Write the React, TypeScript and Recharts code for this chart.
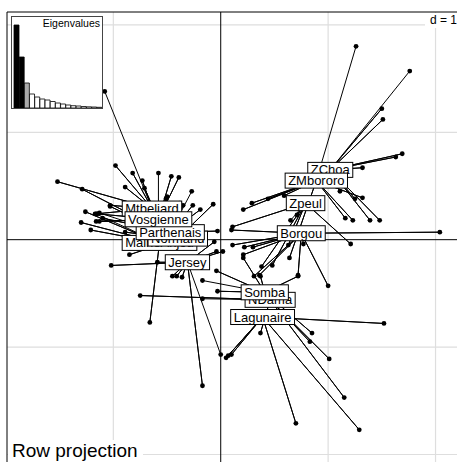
import React from "react";
import {
  ScatterChart,
  Scatter,
  XAxis,
  YAxis,
  ReferenceLine,
  BarChart,
  Bar,
  Cell,
} from "recharts";

// eigenvalues of the inset (relative heights)
const eigenvalues = [83, 51, 25, 14, 11, 9, 8, 6.5, 5, 4, 3, 2.3, 2, 1.5, 1.2, 1, 0.7];

// row scores per breed, [x, y]
const borgou = [[0.77, -0.04], [0.11, -0.05], [0.22, -0.07], [0.3, -0.07], [0.21, -0.14], [0.72, -0.33], [1.0, -0.43], [2.04, 0.07], [0.36, -0.33], [0.31, -0.34], [0.1, 0.09]];
const jersey = [[0.0, -1.07], [-0.45, -0.34], [-0.41, -0.34], [-0.36, -0.35], [-0.59, -0.21], [-1.02, -0.24], [-0.17, -1.36], [-0.06, -0.02], [-0.04, -0.11], [0.02, -0.11]];
const lagunaire = [[0.05, -1.1], [0.07, -1.08], [0.1, -1.07], [1.52, -0.78], [1.29, -1.77], [0.7, -1.71]];
const maine = [[-1.16, 0.24], [-1.26, 0.26], [-1.3, 0.16], [-1.21, 0.09], [-0.66, -0.77]];
const mtbeliard = [[-1.08, 1.38], [-0.98, 0.69], [-0.82, 0.62], [-0.73, 0.55], [-1.52, 0.54], [-0.89, 0.49], [-1.03, 0.32], [-1.17, 0.24]];
const ndama = [[-0.17, -0.55], [-0.75, -0.52], [0.37, -0.87], [0.83, -0.95], [1.01, -1.11], [1.15, -1.47]];
const normand = [[-1.13, 0.25], [-1.03, 0.31], [-0.89, 0.07], [-0.85, -0.14], [-0.07, 0.33], [-1.29, 0.47]];
const parthenais = [[-0.27, 0.45], [-0.51, 0.38], [-0.38, 0.34], [-0.35, 0.32], [-0.26, 0.32], [-0.19, 0.28], [-1.1, 0.2], [-0.03, 0.08]];
const somba = [[-0.17, -0.38], [-0.04, -0.29], [-0.03, -0.48], [0.37, -0.34], [0.72, -0.34], [0.85, -0.87], [0.21, -0.17]];
const vosgienne = [[-0.58, 0.62], [-0.46, 0.59], [-0.39, 0.58], [-0.71, 0.48], [-0.5, 0.4], [-1.15, 0.24], [-1.13, 0.17], [-1.16, 0.17]];
const zchoa = [[1.76, 1.57], [1.5, 1.22], [1.51, 1.12], [1.69, 0.8], [1.63, 0.77], [1.32, 0.67], [1.25, 0.38], [1.39, 0.18], [1.48, 0.18], [1.11, 0.45]];
const zmbororo = [[1.26, 1.8], [0.44, 0.38], [0.59, 0.41], [0.29, 0.34], [0.21, 0.28], [1.16, 0.2], [1.23, 0.18], [1.32, 0.39], [0.64, -0.17]];
const zpeul = [[0.65, 0.18], [0.71, 0.23], [1.21, -0.04], [0.63, -0.05], [0.38, -0.25], [0.48, -0.24], [0.11, 0.12]];

// class centres, in drawing order
const groups = [
  { name: "MaineAnjou", c: [-0.57, -0.03], pts: maine },
  { name: "Mtbeliard", c: [-0.64, 0.29], pts: mtbeliard },
  { name: "Normand", c: [-0.4, 0.01], pts: normand },
  { name: "Parthenais", c: [-0.47, 0.07], pts: parthenais },
  { name: "Vosgienne", c: [-0.58, 0.19], pts: vosgienne },
  { name: "Jersey", c: [-0.31, -0.21], pts: jersey },
  { name: "Borgou", c: [0.75, 0.06], pts: borgou },
  { name: "Zpeul", c: [0.79, 0.34], pts: zpeul },
  { name: "ZChoa", c: [1.02, 0.65], pts: zchoa },
  { name: "ZMbororo", c: [0.89, 0.55], pts: zmbororo },
  { name: "NDama", c: [0.46, -0.56], pts: ndama },
  { name: "Somba", c: [0.41, -0.49], pts: somba },
  { name: "Lagunaire", c: [0.39, -0.72], pts: lagunaire },
];

const FONT = "'Liberation Sans', Arial, sans-serif";

let ctx: CanvasRenderingContext2D | null = null;
const textWidth = (s: string) => {
  if (!ctx) ctx = document.createElement("canvas").getContext("2d");
  if (!ctx) return s.length * 7;
  ctx.font = "13px 'Liberation Sans'";
  return ctx.measureText(s).width;
};

const LabelBox = (props: any) => {
  const { cx, cy, payload } = props;
  if (cx == null || cy == null) return null;
  const w = textWidth(payload.name) + 6;
  const h = 15;
  return (
    <g>
      <rect x={cx - w / 2} y={cy - h / 2} width={w} height={h} fill="#fff" stroke="#000" strokeWidth={1} />
      <text x={cx} y={cy + 4.5} textAnchor="middle" fontSize={13} fontFamily={FONT} fill="#000">
        {payload.name}
      </text>
    </g>
  );
};

const Dot = (props: any) => {
  const { cx, cy } = props;
  if (cx == null || cy == null) return null;
  return <circle cx={cx} cy={cy} r={2.4} fill="#000" />;
};

const NoShape = () => null;

export default function App() {
  const dots = groups.flatMap((g) => g.pts.map(([x, y]) => ({ x, y })));
  const labels = groups.map((g) => ({ x: g.c[0], y: g.c[1], name: g.name }));
  const grid = "#dedede";

  return (
    <div style={{ position: "fixed", left: 0, top: 0, width: 457, height: 462, overflow: "hidden", background: "#fff" }}>
      <ScatterChart width={457} height={462} margin={{ top: 12, right: 0, bottom: 0, left: 7 }}>
        <XAxis type="number" dataKey="x" domain={[-1.99, 2.2]} allowDataOverflow hide />
        <YAxis type="number" dataKey="y" domain={[-2.07, 2.12]} allowDataOverflow hide />
        {[-1, 1, 2].map((v) => (
          <ReferenceLine key={"gx" + v} x={v} stroke={grid} strokeWidth={1.2} />
        ))}
        {[2, 1, -1, -2].map((v) => (
          <ReferenceLine key={"gy" + v} y={v} stroke={grid} strokeWidth={1.2} />
        ))}
        <ReferenceLine x={0} stroke="#000" />
        <ReferenceLine y={0} stroke="#000" />
        <ReferenceLine x={-1.99} stroke="#000" />
        <ReferenceLine y={2.12} stroke="#000" />
        {groups.map((g) => (
          <Scatter
            key={"star" + g.name}
            data={g.pts.flatMap(([x, y]) => [
              { x, y },
              { x: g.c[0], y: g.c[1] },
            ])}
            line={{ stroke: "#000", strokeWidth: 1 }}
            lineJointType="linear"
            shape={<NoShape />}
            isAnimationActive={false}
          />
        ))}
        <Scatter data={dots} shape={<Dot />} isAnimationActive={false} />
        <Scatter data={labels} shape={<LabelBox />} isAnimationActive={false} />
      </ScatterChart>

      <div
        style={{
          position: "absolute",
          left: 11,
          top: 16,
          width: 92,
          height: 93,
          background: "#fff",
          border: "1px solid #444",
          boxSizing: "border-box",
        }}
      >
        <BarChart width={90} height={91} data={eigenvalues.map((v, i) => ({ i, v }))} margin={{ top: 8, right: 0, bottom: 0, left: 2 }} barCategoryGap={0}>
          <XAxis dataKey="i" hide />
          <YAxis domain={[0, 83]} hide />
          <Bar dataKey="v" stroke="#000" strokeWidth={0.8} isAnimationActive={false}>
            {eigenvalues.map((v, i) => (
              <Cell key={i} fill={i < 2 ? "#000" : i === 2 ? "#aaa" : "#fff"} />
            ))}
          </Bar>
        </BarChart>
        <div style={{ position: "absolute", right: 2, top: 1, fontSize: 10.5, fontFamily: FONT, background: "#fff", lineHeight: "11px" }}>
          Eigenvalues
        </div>
      </div>

      <div style={{ position: "absolute", left: 425, top: 13, width: 32, height: 15, background: "#fff", fontFamily: FONT, fontSize: 12, lineHeight: "15px", textAlign: "right", whiteSpace: "nowrap" }}>
        d = 1
      </div>

      <div style={{ position: "absolute", left: 8, top: 440, width: 135, height: 22, background: "#fff", fontFamily: FONT, fontSize: 19, lineHeight: "22px", paddingLeft: 4, boxSizing: "border-box", whiteSpace: "nowrap" }}>
        Row projection
      </div>
    </div>
  );
}
